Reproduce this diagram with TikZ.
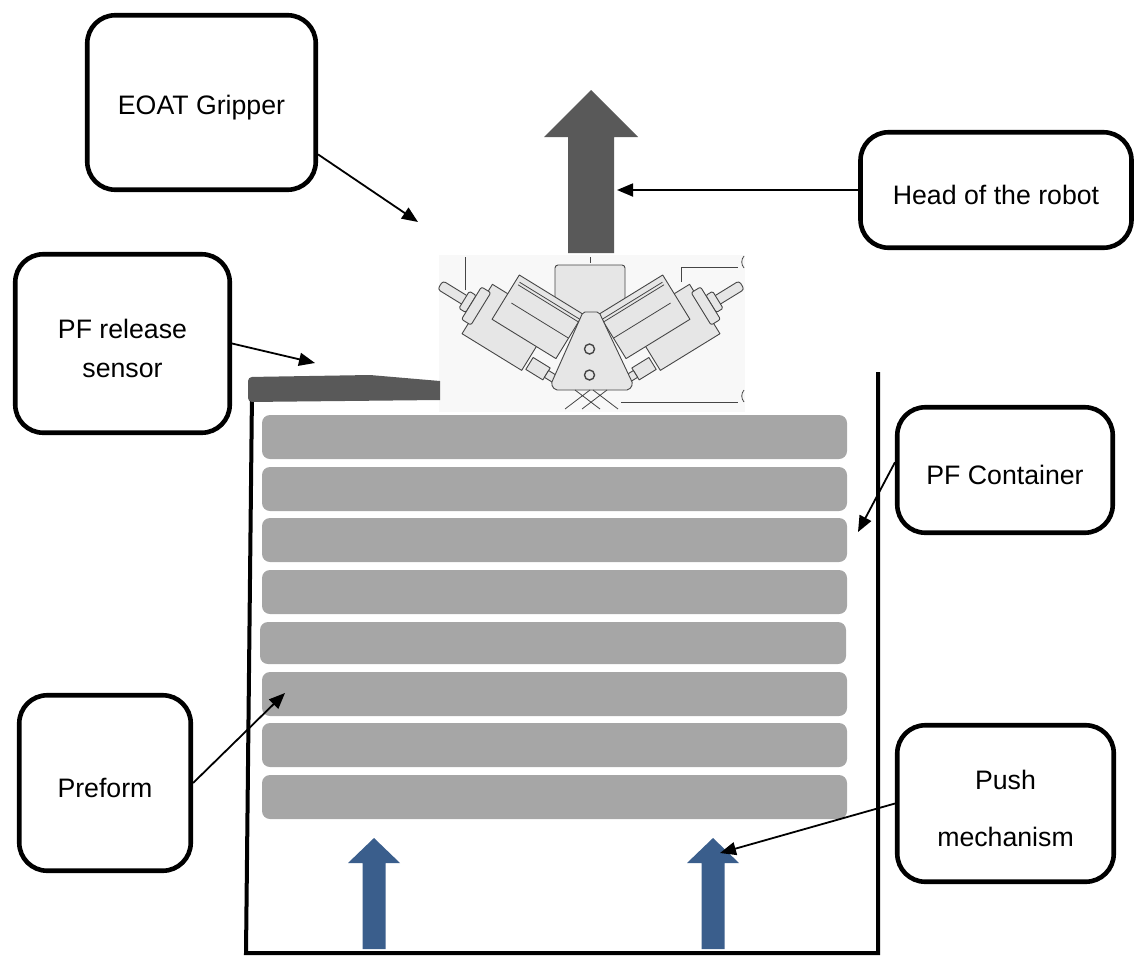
\documentclass[tikz,border=0pt]{standalone}
\usepackage{fontspec}
\setmainfont{Liberation Sans}
\usetikzlibrary{arrows.meta}

\definecolor{darkarrow}{HTML}{595959}
\definecolor{pfgrey}{HTML}{A6A6A6}
\definecolor{pushblue}{RGB}{58,94,140}
\definecolor{partfill}{HTML}{E6E6E6}
\definecolor{partline}{HTML}{454545}
\definecolor{photobg}{HTML}{F8F8F8}

% invisible strut that sets the label text a little below the box centre
\newcommand\labelpad{\rule{0pt}{29.5pt}}

\tikzset{
  labelbox/.style={draw=black, line width=4.6pt, rounded corners=28pt, fill=white,
    align=center, inner sep=0pt, font=\fontsize{26.7}{39}\selectfont},
  conn/.style={line width=1.8pt, -{Triangle[length=16pt,width=13pt]}},
  preformbar/.style={fill=pfgrey, rounded corners=8pt},
  wall/.style={line width=4pt, line join=miter},
  part/.style={draw=partline, fill=partfill, line width=0.9pt, line join=round},
  partthin/.style={draw=partline, line width=0.8pt},
  % one side of the gripper: clamp, rod, nuts, cylinder body and bracket
  gripperhalf/.pic={
    \draw[part] (-18,-80) rectangle (52,-22);
    \draw[part, rounded corners=3pt] (-62,-55) rectangle (-20,-45);
    \draw[part, rounded corners=1.5pt] (-34,-60) rectangle (-26,-40);
    \draw[part, rounded corners=2pt] (-26,-68) rectangle (-15,-30);
    \draw[part] (0,-52) rectangle (75,0);
    \draw[partthin] (4,-6) -- (75,-6) (4,-9) -- (75,-9) (8,-28) -- (75,-28);
    \draw[part] (55,-77) rectangle (75,-63);
    \draw[part] (75,-74) rectangle (90,-66);
  }
}

\begin{document}
\begin{tikzpicture}[x=1pt,y=1pt]
\useasboundingbox (0,0) rectangle (1134,-956);

% ---- gripper (end of arm tool) ----
\fill[photobg] (439,-255) rectangle (745,-412);
\draw[part, rounded corners=3pt] (555,-312) -- (555,-265) -- (625,-265) -- (625,-312);
\draw[partthin] (590,-257) -- (590,-263);
\pic[shift={(519.3,-275)}, rotate=-31.6] {gripperhalf};
\pic[shift={(662.7,-275)}, rotate=31.6, xscale=-1] {gripperhalf};
\draw[part, rounded corners=2pt] (583,-312) -- (599,-312) -- (633,-384) -- (629,-390)
  -- (555,-390) -- (551,-384) -- cycle;
\draw[partline, line width=1.4pt] (589.5,-349) circle (5) (589.5,-375) circle (5);
\draw[partthin] (575,-390) -- (600,-409) (590,-390) -- (565,-409)
  (593,-390) -- (618,-409) (607,-390) -- (582,-409);
\draw[partthin] (465,-257) -- (465,-290);
\draw[partthin] (681,-282) -- (681,-267) -- (738,-267);
\draw[partthin] (621,-402) -- (738,-402);
\draw[partthin] (744,-256) to[bend right=40] (744,-268);
\draw[partthin] (744,-390) to[bend right=40] (744,-402);

% ---- head of the robot (upward motion) ----
\fill[darkarrow] (568,-253) -- (568,-137) -- (544,-137) -- (591,-90) -- (638,-137)
  -- (614,-137) -- (614,-253) -- cycle;

% ---- preform container ----
\draw[wall] (252,-392) -- (246,-953) -- (878,-953) -- (878,-372);
\fill[darkarrow] (440,-400) -- (440,-381) -- (370,-375) [rounded corners=4pt]
  -- (248,-377) -- (248,-402) [sharp corners] -- cycle;

% stacked preforms
\foreach \top in {415,467,518,570,672,723,775}
  \fill[preformbar] (262,-\top) rectangle (847,-\top-44);
\fill[preformbar] (260,-622) rectangle (846,-664);

% push mechanism arrows
\foreach \cx in {374,713}
  \fill[pushblue] (\cx-11.5,-949) -- (\cx-11.5,-863) -- (\cx-26,-863) -- (\cx,-838)
    -- (\cx+26,-863) -- (\cx+11.5,-863) -- (\cx+11.5,-949) -- cycle;

% ---- labels ----
\node[labelbox, minimum width=228.5pt, minimum height=174.5pt] (eoat) at (201.5,-102.5) {\labelpad EOAT Gripper};
\node[labelbox, minimum width=271pt, minimum height=115.5pt] (head) at (996,-190) {\labelpad Head of the robot};
\node[labelbox, minimum width=214.5pt, minimum height=178.5pt] (sensor) at (122.5,-343.5) {\labelpad PF release\\sensor};
\node[labelbox, minimum width=215.5pt, minimum height=125.5pt] (container) at (1005,-470) {\labelpad PF Container};
\node[labelbox, minimum width=171.5pt, minimum height=175.5pt] (preform) at (105,-783) {\labelpad Preform};
\node[labelbox, minimum width=216.5pt, minimum height=156.5pt,
  font=\fontsize{26.7}{57}\selectfont] (push) at (1005.5,-803.5) {\labelpad Push\\mechanism};

% ---- connector targets ----
\coordinate (eoatTip) at (418,-222);
\coordinate (headTip) at (617,-190);
\coordinate (sensorTip) at (315,-363);
\coordinate (containerTip) at (858,-532);
\coordinate (preformTip) at (285,-693);
\coordinate (pushTip) at (720,-853);

\draw[conn] (eoat.-24) -- (eoatTip);
\draw[conn] (head.west) -- (headTip);
\draw[conn] (sensor.east) -- (sensorTip);
\draw[conn] (container.176) -- (containerTip);
\draw[conn] (preform.east) -- (preformTip);
\draw[conn] (push.west) -- (pushTip);
\end{tikzpicture}
\end{document}
